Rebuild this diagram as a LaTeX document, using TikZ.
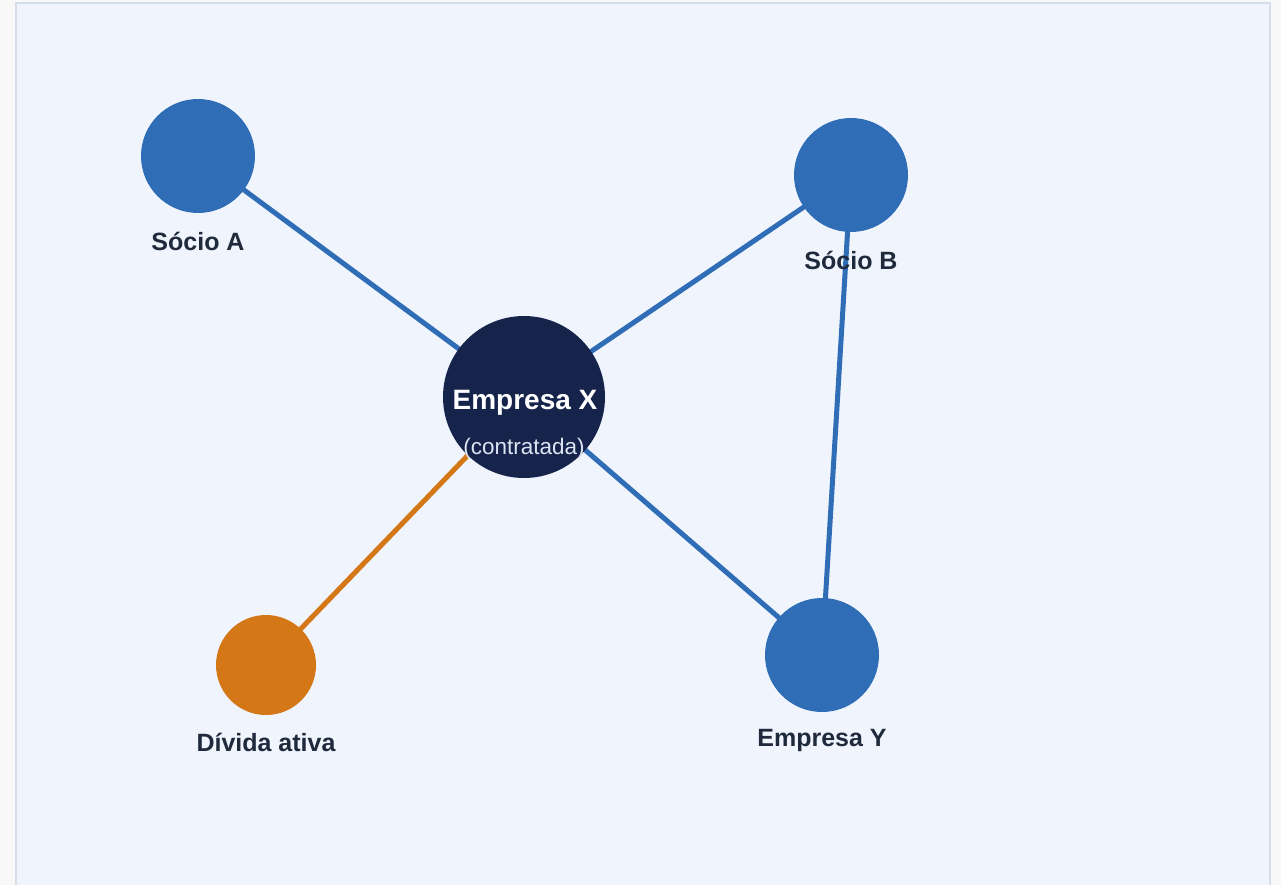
\documentclass[tikz,border=0pt]{standalone}
\usepackage{fontspec}
\setmainfont{Liberation Sans}
\definecolor{panel}{HTML}{F0F4FC}
\definecolor{panelborder}{HTML}{D6DEEB}
\definecolor{outer}{HTML}{F8F8F9}
\definecolor{nodeblue}{HTML}{2F6DB6}
\definecolor{navy}{HTML}{16244C}
\definecolor{orangec}{HTML}{D47717}
\definecolor{labeltext}{HTML}{1F2A3C}
\definecolor{subtext}{HTML}{DCE3F2}
\tikzset{
  ent/.style={circle, fill=nodeblue, minimum size=114pt, inner sep=0pt},
  hub/.style={circle, fill=navy, minimum size=162pt, inner sep=0pt},
  debt/.style={circle, fill=orangec, minimum size=100pt, inner sep=0pt},
  lbl/.style={text=labeltext, font=\fontsize{25}{29}\selectfont\bfseries},
  link/.style={draw=nodeblue, line width=5pt},
  debtlink/.style={draw=orangec, line width=5pt}
}
\begin{document}
\begin{tikzpicture}[x=1pt,y=-1pt]
\useasboundingbox (0,0) rectangle (1281,885);
\fill[outer] (0,0) rectangle (1281,885);
\begin{scope}
\clip (0,0) rectangle (1281,885);
\draw[panelborder, fill=panel, line width=2pt] (16,3) rectangle (1270,900);
\end{scope}
% node positions
\coordinate (cA) at (198,156);
\coordinate (cB) at (851,175);
\coordinate (cX) at (524,397);
\coordinate (cD) at (266,665);
\coordinate (cY) at (822,655);
% connectors
\draw[link] (cX) -- (cA);
\draw[link] (cX) -- (cB);
\draw[link] (cX) -- (cY);
\draw[link] (cB) -- (cY);
\draw[debtlink] (cX) -- (cD);
% circles
\node[ent] (A) at (cA) {};
\node[ent] (B) at (cB) {};
\node[ent] (Y) at (cY) {};
\node[debt] (D) at (cD) {};
\node[hub] (X) at (cX) {};
% texts
\node[text=white, font=\fontsize{28}{31}\selectfont\bfseries] (Xt) at (525,403) {Empresa X};
\node[text=subtext, font=\fontsize{22.5}{26}\selectfont] (Xs) at (524,449) {(contratada)};
\node[lbl] (Al) at (198,241) {Sócio A};
\node[lbl] (Bl) at (851,260) {Sócio B};
\node[lbl] (Dl) at (266,742) {Dívida ativa};
\node[lbl] (Yl) at (822,740) {Empresa Y};
\end{tikzpicture}
\end{document}
